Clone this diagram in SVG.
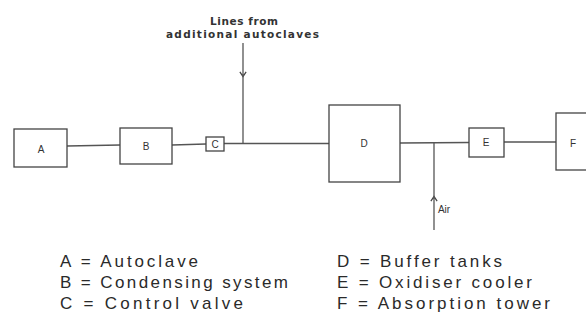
<svg xmlns="http://www.w3.org/2000/svg" width="586" height="323" viewBox="0 0 586 323">
<style>
.box{fill:#fff;stroke:#444;stroke-width:1.3}
.ln{fill:none;stroke:#555;stroke-width:1.3}
.lbl{font-family:"Liberation Sans",Arial,sans-serif;font-size:10px;fill:#333;text-anchor:middle;dominant-baseline:central}
.top{font-family:"DejaVu Sans",sans-serif;font-size:10.5px;font-weight:bold;fill:#333}
.leg{font-family:"Liberation Sans",Arial,sans-serif;font-size:17px;fill:#2a2a2a}
</style>
<defs>
<marker id="arr" viewBox="0 0 10 10" refX="5" refY="5" markerWidth="6" markerHeight="6" orient="auto">
<path d="M1,1 L7,5 L1,9" fill="none" stroke="#444" stroke-width="1.6"/>
</marker>
</defs>
<rect width="586" height="323" fill="#fff"/>
<g id="connectors">
<line class="ln" x1="67" y1="146" x2="120" y2="145"/>
<line class="ln" x1="172" y1="145" x2="206" y2="144"/>
<line class="ln" x1="224" y1="143.5" x2="329" y2="143.5"/>
<line class="ln" x1="400" y1="143" x2="469" y2="142.5"/>
<line class="ln" x1="504" y1="142" x2="556" y2="142"/>
<path class="ln" d="M243,43 L243,75" marker-end="url(#arr)"/>
<line class="ln" x1="243" y1="74" x2="243" y2="143.5"/>
<path class="ln" d="M434,230 L434,198" marker-end="url(#arr)"/>
<line class="ln" x1="434" y1="199" x2="434" y2="143"/>
</g>
<g id="A"><rect class="box" x="14" y="129" width="53" height="38"/><text class="lbl" x="41" y="149">A</text></g>
<g id="B"><rect class="box" x="120" y="128" width="52" height="36"/><text class="lbl" x="146" y="146">B</text></g>
<g id="C"><rect class="box" x="206" y="137" width="18" height="14"/><text class="lbl" x="215" y="144">C</text></g>
<g id="D"><rect class="box" x="329" y="105" width="71" height="77"/><text class="lbl" x="364" y="143">D</text></g>
<g id="E"><rect class="box" x="469" y="128" width="35" height="29"/><text class="lbl" x="486" y="142">E</text></g>
<g id="F"><rect class="box" x="556" y="113" width="40" height="57"/><text class="lbl" x="573" y="143">F</text></g>
<g id="top-label">
<text class="top" x="210" y="25" textLength="68" lengthAdjust="spacing">Lines from</text>
<text class="top" x="166" y="38" textLength="153" lengthAdjust="spacing">additional autoclaves</text>
</g>
<g id="air-label"><text class="lbl" x="444" y="209">Air</text></g>
<g id="legend">
<text class="leg" x="60" y="267" textLength="138" lengthAdjust="spacing">A = Autoclave</text>
<text class="leg" x="60" y="288" textLength="228" lengthAdjust="spacing">B = Condensing system</text>
<text class="leg" x="60" y="309" textLength="183" lengthAdjust="spacing">C = Control valve</text>
<text class="leg" x="337" y="267" textLength="165" lengthAdjust="spacing">D = Buffer tanks</text>
<text class="leg" x="337" y="288" textLength="195" lengthAdjust="spacing">E = Oxidiser cooler</text>
<text class="leg" x="337" y="309" textLength="213" lengthAdjust="spacing">F = Absorption tower</text>
</g>
</svg>
